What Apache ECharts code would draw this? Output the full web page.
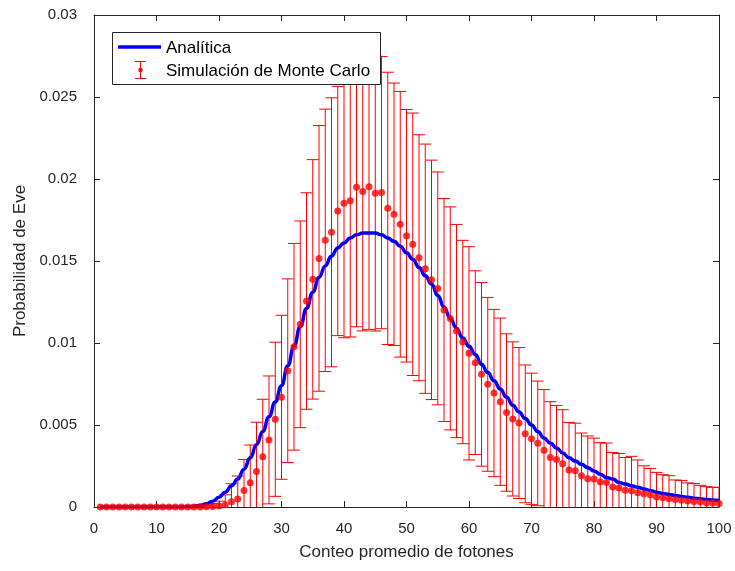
<!DOCTYPE html>
<html>
<head>
<meta charset="utf-8">
<script src="https://cdn.jsdelivr.net/npm/echarts@6/dist/echarts.min.js"></script>
<style>
  html, body { margin: 0; padding: 0; background: #fff; }
  #chart { width: 735px; height: 571px; }
</style>
</head>
<body>
<div id="chart"></div>
<script>
// Mean photon count (x axis)
const photonCounts = Array.from({ length: 100 }, (_, i) => i + 1);

// Analytic probability for Eve at each photon count 1..100
const analytic = [
  0, 0, 0, 0, 0, 0, 0, 0, 0, 0,
  0, 0, 0, 0.000005, 0.00002, 0.00005, 0.0001, 0.0002, 0.00035, 0.0006,
  0.0009, 0.0013, 0.0017, 0.0023, 0.0030, 0.0038, 0.0046, 0.0055, 0.0064, 0.0074,
  0.0086, 0.0098, 0.0110, 0.0121, 0.0131, 0.0140, 0.0147, 0.0153, 0.0158, 0.0161,
  0.0164, 0.0166, 0.0167, 0.0167, 0.0167, 0.0166, 0.0164, 0.0162, 0.0159, 0.0155,
  0.0151, 0.0146, 0.0141, 0.0136, 0.0129, 0.0122, 0.0115, 0.0109, 0.0103, 0.0098,
  0.0093, 0.0087, 0.0082, 0.0077, 0.0072, 0.0067, 0.0062, 0.0058, 0.0054, 0.0050,
  0.0046, 0.0042, 0.0039, 0.0036, 0.0033, 0.0030, 0.0028, 0.0026, 0.0024, 0.0022,
  0.0020, 0.0018, 0.0017, 0.0015, 0.0014, 0.0013, 0.0012, 0.0011, 0.0010, 0.0009,
  0.00083, 0.00076, 0.0007, 0.00064, 0.00059, 0.00054, 0.0005, 0.00046, 0.00043, 0.0004
];

// Monte Carlo mean probability at each photon count 1..100
const mcMean = [
  0, 0, 0, 0, 0, 0, 0, 0, 0, 0,
  0, 0, 0, 0, 0, 0, 0, 0.00001, 0.00003, 0.00006,
  0.00014, 0.00032, 0.00049, 0.00100, 0.00148, 0.00217, 0.00307, 0.00409, 0.00535, 0.00669,
  0.00831, 0.00977, 0.01114, 0.01256, 0.01388, 0.01516, 0.01626, 0.01675, 0.01805, 0.01852,
  0.01867, 0.01949, 0.01924, 0.01953, 0.01913, 0.01917, 0.01821, 0.01785, 0.01724, 0.01654,
  0.01602, 0.01520, 0.01453, 0.01385, 0.01333, 0.01201, 0.01150, 0.01073, 0.01006, 0.00937,
  0.00880, 0.00809, 0.00748, 0.00695, 0.00642, 0.00576, 0.00537, 0.00512, 0.00446, 0.00416,
  0.00388, 0.00346, 0.00302, 0.00289, 0.00263, 0.00226, 0.00221, 0.00191, 0.00173, 0.00170,
  0.00152, 0.00150, 0.00122, 0.00116, 0.00102, 0.00099, 0.00087, 0.00081, 0.00075, 0.00061,
  0.00057, 0.00051, 0.00045, 0.00041, 0.00037, 0.00033, 0.00032, 0.00024, 0.00024, 0.00022
];

// Monte Carlo standard deviation (half length of each error bar)
const mcError = [
  0, 0, 0, 0, 0, 0, 0, 0, 0, 0,
  0, 0, 0, 0, 0.00002, 0.00004, 0.00006, 0.0001, 0.00018, 0.0003,
  0.0006, 0.0011, 0.0014, 0.0019, 0.0023, 0.0030, 0.0035, 0.0039, 0.0047, 0.0050,
  0.0056, 0.0063, 0.0063, 0.0066, 0.0073, 0.0081, 0.0080, 0.0082, 0.0076, 0.0082,
  0.0083, 0.0085, 0.0085, 0.0087, 0.0084, 0.0083, 0.0083, 0.0080, 0.0081, 0.0077,
  0.0080, 0.0075, 0.0076, 0.0073, 0.0071, 0.0068, 0.0068, 0.0065, 0.0062, 0.0065,
  0.0056, 0.0056, 0.0053, 0.0051, 0.0051, 0.0048, 0.0047, 0.0046, 0.0042, 0.0040,
  0.0038, 0.0037, 0.0034, 0.0033, 0.0033, 0.0029, 0.0029, 0.0026, 0.0026, 0.0025,
  0.0024, 0.0024, 0.0021, 0.0021, 0.0020, 0.0021, 0.0020, 0.0017, 0.0016, 0.0015,
  0.0014, 0.0014, 0.0012, 0.0012, 0.0011, 0.0011, 0.0010, 0.0010, 0.00096, 0.00098
];

const FONT = '"Liberation Sans", Arial, Helvetica, sans-serif';
const AXIS_COLOR = '#262626';
const RED = '#ff0000';
const BLUE = '#0000ff';

const chart = echarts.init(document.getElementById('chart'), null, { renderer: 'canvas' });

const lineData = photonCounts.map((x, i) => [x, analytic[i]]);
const dotData = photonCounts.map((x, i) => [x, mcMean[i]]);
const barData = photonCounts.map((x, i) => [x, mcMean[i] - mcError[i], mcMean[i] + mcError[i], mcError[i]]);

const capHalf = 6;

function redStroke() {
  return { stroke: RED, fill: null, lineWidth: 1 };
}

// Vertical error bar with a cap at each end
function renderErrorBar(params, api) {
  if (api.value(3) <= 0) return null;
  const x = api.value(0);
  const lo = api.coord([x, api.value(1)]);
  const hi = api.coord([x, api.value(2)]);
  return {
    type: 'group',
    children: [
      { type: 'line', shape: { x1: lo[0], y1: lo[1], x2: hi[0], y2: hi[1] }, style: redStroke() },
      { type: 'line', shape: { x1: hi[0] - capHalf, y1: hi[1], x2: hi[0] + capHalf, y2: hi[1] }, style: redStroke() },
      { type: 'line', shape: { x1: lo[0] - capHalf, y1: lo[1], x2: lo[0] + capHalf, y2: lo[1] }, style: redStroke() }
    ]
  };
}

const axisCommon = {
  type: 'value',
  axisLine: { show: true, onZero: false, lineStyle: { color: AXIS_COLOR, width: 1 } },
  axisTick: { show: true, inside: true, length: 6, lineStyle: { color: AXIS_COLOR } },
  splitLine: { show: false },
  minorTick: { show: false }
};

// Legend frame and entries
const legendX = 112.5, legendY = 32.5;
const legendGraphics = [
  {
    type: 'rect', z: 100,
    shape: { x: legendX, y: legendY, width: 268, height: 52 },
    style: { fill: '#fff', stroke: AXIS_COLOR, lineWidth: 1 }
  },
  {
    type: 'line', z: 101,
    shape: { x1: 118, y1: 47, x2: 161, y2: 47 },
    style: { stroke: BLUE, lineWidth: 3.5 }
  },
  { type: 'line', z: 101, shape: { x1: 140.5, y1: 61, x2: 140.5, y2: 79 }, style: { stroke: RED, lineWidth: 1 } },
  { type: 'line', z: 101, shape: { x1: 135, y1: 61.5, x2: 146, y2: 61.5 }, style: { stroke: RED, lineWidth: 1 } },
  { type: 'line', z: 101, shape: { x1: 135, y1: 78.5, x2: 146, y2: 78.5 }, style: { stroke: RED, lineWidth: 1 } },
  { type: 'circle', z: 101, shape: { cx: 140.5, cy: 70, r: 2.2 }, style: { fill: RED } },
  {
    type: 'text', z: 101, x: 166, y: 48,
    style: { text: 'Analítica', font: '17px ' + FONT, fill: '#000', textVerticalAlign: 'middle', verticalAlign: 'middle' }
  },
  {
    type: 'text', z: 101, x: 166, y: 71,
    style: { text: 'Simulación de Monte Carlo', font: '17px ' + FONT, fill: '#000', textVerticalAlign: 'middle', verticalAlign: 'middle' }
  }
];

const option = {
  backgroundColor: '#fff',
  animation: false,
  textStyle: { fontFamily: FONT },
  grid: { left: 94, right: 16, top: 15, bottom: 64, containLabel: false },
  xAxis: [
    Object.assign({}, axisCommon, {
      position: 'bottom', min: 0, max: 100, interval: 10,
      axisLabel: { show: true, color: AXIS_COLOR, fontSize: 15, fontFamily: FONT, margin: 14 },
      name: 'Conteo promedio de fotones', nameLocation: 'middle', nameGap: 37,
      nameTextStyle: { fontSize: 17, color: AXIS_COLOR, fontFamily: FONT }
    }),
    Object.assign({}, axisCommon, {
      position: 'top', min: 0, max: 100, interval: 10,
      axisLabel: { show: false }
    })
  ],
  yAxis: [
    Object.assign({}, axisCommon, {
      position: 'left', min: 0, max: 0.03, interval: 0.005,
      axisLabel: { show: true, color: AXIS_COLOR, fontSize: 15, fontFamily: FONT, margin: 17 },
      name: 'Probabilidad de Eve', nameLocation: 'middle', nameGap: 63,
      nameTextStyle: { fontSize: 17, color: AXIS_COLOR, fontFamily: FONT }
    }),
    Object.assign({}, axisCommon, {
      position: 'right', min: 0, max: 0.03, interval: 0.005,
      axisLabel: { show: false }
    })
  ],
  series: [
    {
      name: 'Simulación de Monte Carlo (barras)',
      type: 'custom',
      xAxisIndex: 0, yAxisIndex: 0,
      renderItem: renderErrorBar,
      data: barData,
      clip: true,
      itemStyle: { color: RED },
      z: 2,
      silent: true
    },
    {
      name: 'Analítica',
      type: 'line',
      xAxisIndex: 0, yAxisIndex: 0,
      data: lineData,
      showSymbol: false,
      smooth: 0.5,
      smoothMonotone: 'x',
      lineStyle: { color: BLUE, width: 3.5 },
      itemStyle: { color: BLUE },
      z: 3,
      silent: true
    },
    {
      name: 'Simulación de Monte Carlo',
      type: 'scatter',
      xAxisIndex: 0, yAxisIndex: 0,
      data: dotData,
      symbolSize: 7,
      itemStyle: { color: RED },
      z: 4,
      silent: true
    }
  ],
  graphic: legendGraphics
};

chart.setOption(option);
</script>
</body>
</html>
